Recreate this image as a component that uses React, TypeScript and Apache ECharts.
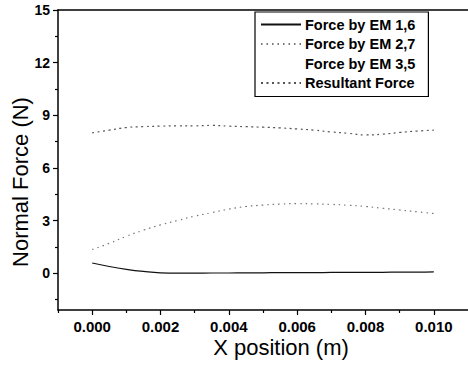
import React, { useEffect, useRef } from "react";
import * as echarts from "echarts";

const xPositions = [0, 0.0005, 0.001, 0.0015, 0.002, 0.0025, 0.003, 0.0035, 0.004, 0.0045, 0.005, 0.0055, 0.006, 0.0065, 0.007, 0.0075, 0.008, 0.0085, 0.009, 0.0095, 0.01];
const em16 = [0.58, 0.38, 0.22, 0.1, 0.02, 0.0, 0.0, 0.01, 0.01, 0.02, 0.02, 0.03, 0.03, 0.03, 0.04, 0.04, 0.05, 0.05, 0.06, 0.06, 0.07];
const em27 = [1.35, 1.7, 2.1, 2.45, 2.75, 3.0, 3.25, 3.45, 3.65, 3.8, 3.88, 3.94, 3.96, 3.95, 3.92, 3.87, 3.8, 3.7, 3.6, 3.5, 3.4];
const em35: number[] = [];
const resultant = [8.0, 8.15, 8.3, 8.35, 8.38, 8.4, 8.4, 8.42, 8.38, 8.35, 8.32, 8.28, 8.22, 8.15, 8.05, 7.97, 7.88, 7.92, 8.02, 8.1, 8.15];

const seriesNames = ["Force by EM 1,6", "Force by EM 2,7", "Force by EM 3,5", "Resultant Force"];
const xMajorTicks = [0, 0.002, 0.004, 0.006, 0.008, 0.01];
const xMinorTicks = [-0.001, 0.001, 0.003, 0.005, 0.007, 0.009];
const yMajorTicks = [0, 3, 6, 9, 12, 15];
const yMinorTicks = [-1.5, 1.5, 4.5, 7.5, 10.5, 13.5];

const FONT = '"Liberation Sans", Arial, sans-serif';

export default function App() {
  const ref = useRef<HTMLDivElement>(null);
  useEffect(() => {
    if (!ref.current) return;
    const chart = echarts.init(ref.current, null, { renderer: "svg" });
    const pair = (ys: number[]) => ys.map((y, i) => [xPositions[i], y]);
    const xBase = { type: "value", min: -0.001, max: 0.011, gridIndex: 0 };
    const yBase = { type: "value", min: -2.1, max: 15, gridIndex: 0 };
    chart.setOption({
      animation: false,
      backgroundColor: "#ffffff",
      grid: { left: 58, right: -3, top: 10, bottom: 57, containLabel: false },
      xAxis: [
        {
          ...xBase,
          position: "bottom",
          axisLine: { show: true, onZero: false, lineStyle: { color: "#000", width: 1.5 } },
          axisTick: { show: true, inside: false, length: 5, customValues: xMajorTicks, lineStyle: { color: "#000", width: 1.2 } },
          axisLabel: {
            show: true,
            customValues: xMajorTicks,
            formatter: (v: number) => v.toFixed(3),
            color: "#000",
            fontFamily: FONT,
            fontWeight: "bold",
            fontSize: 15,
            margin: 9,
          },
          splitLine: { show: false },
        },
        {
          ...xBase,
          position: "bottom",
          axisLine: { show: false, onZero: false },
          axisTick: { show: true, inside: false, length: 3, customValues: xMinorTicks, lineStyle: { color: "#000", width: 1.2 } },
          axisLabel: { show: false },
          splitLine: { show: false },
        },
        {
          ...xBase,
          position: "top",
          axisLine: { show: true, onZero: false, lineStyle: { color: "#000", width: 1.5 } },
          axisTick: { show: false },
          axisLabel: { show: false },
          splitLine: { show: false },
        },
      ],
      yAxis: [
        {
          ...yBase,
          position: "left",
          axisLine: { show: true, onZero: false, lineStyle: { color: "#000", width: 1.5 } },
          axisTick: { show: true, inside: false, length: 5, customValues: yMajorTicks, lineStyle: { color: "#000", width: 1.2 } },
          axisLabel: {
            show: true,
            customValues: yMajorTicks,
            formatter: (v: number) => String(v),
            color: "#000",
            fontFamily: FONT,
            fontWeight: "bold",
            fontSize: 14,
            margin: 8,
          },
          splitLine: { show: false },
        },
        {
          ...yBase,
          position: "left",
          axisLine: { show: false, onZero: false },
          axisTick: { show: true, inside: false, length: 3, customValues: yMinorTicks, lineStyle: { color: "#000", width: 1.2 } },
          axisLabel: { show: false },
          splitLine: { show: false },
        },
      ],
      legend: {
        orient: "vertical",
        left: 255,
        top: 12,
        padding: [5, 13, 6, 5],
        itemWidth: 40,
        itemHeight: 14,
        itemGap: 4.5,
        borderColor: "#000",
        borderWidth: 1.2,
        backgroundColor: "#fff",
        data: seriesNames,
        itemStyle: { opacity: 0 },
        textStyle: { color: "#000", fontFamily: FONT, fontWeight: "bold", fontSize: 14.5, padding: [0, 0, 0, -1] },
      },
      series: [
        {
          name: seriesNames[0],
          type: "line",
          xAxisIndex: 0,
          yAxisIndex: 0,
          data: pair(em16),
          symbol: "none",
          smooth: true,
          lineStyle: { color: "#111", width: 1.2, type: "solid" },
          itemStyle: { color: "#111" },
        },
        {
          name: seriesNames[1],
          type: "line",
          xAxisIndex: 0,
          yAxisIndex: 0,
          data: pair(em27),
          symbol: "none",
          smooth: true,
          lineStyle: { color: "#777", width: 1.2, type: [1.5, 4] },
          itemStyle: { color: "#777" },
        },
        {
          name: seriesNames[2],
          type: "line",
          xAxisIndex: 0,
          yAxisIndex: 0,
          data: em35,
          symbol: "none",
          lineStyle: { color: "#ffffff", width: 1 },
          itemStyle: { color: "#ffffff" },
        },
        {
          name: seriesNames[3],
          type: "line",
          xAxisIndex: 0,
          yAxisIndex: 0,
          data: pair(resultant),
          symbol: "none",
          smooth: true,
          lineStyle: { color: "#555", width: 1.2, type: [2, 3.5] },
          itemStyle: { color: "#555" },
        },
      ],
      graphic: [
        {
          type: "text",
          x: 281,
          y: 347,
          style: {
            text: "X position (m)",
            font: `22px ${FONT}`,
            fill: "#000",
            align: "center",
            verticalAlign: "middle",
          },
        },
        {
          type: "text",
          x: 20,
          y: 182,
          rotation: Math.PI / 2,
          style: {
            text: "Normal Force (N)",
            font: `22px ${FONT}`,
            fill: "#000",
            align: "center",
            verticalAlign: "middle",
          },
        },
      ],
    });
    return () => chart.dispose();
  }, []);
  return <div ref={ref} style={{ width: 468, height: 367, position: "absolute", left: 0, top: 0 }} />;
}
